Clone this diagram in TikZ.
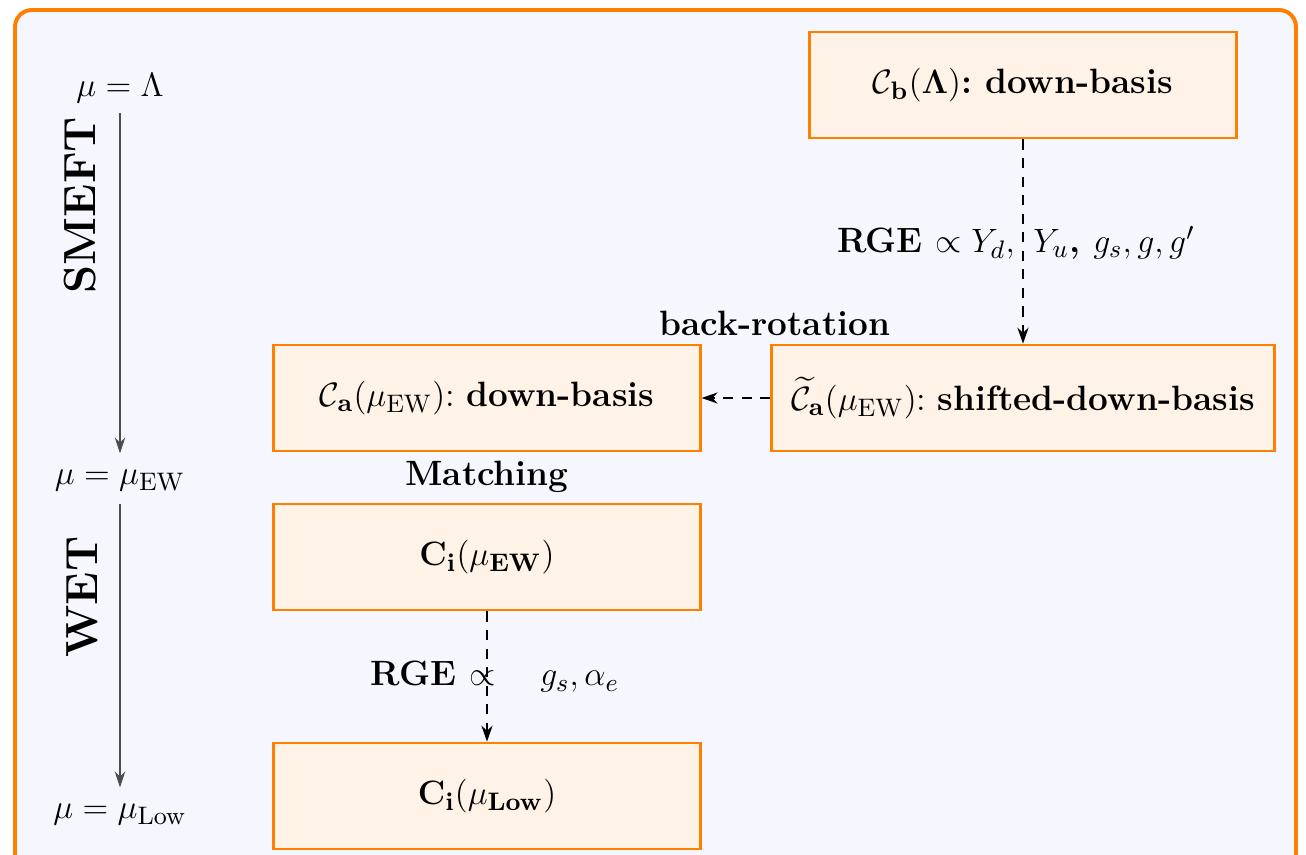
\documentclass[tikz,border=0pt]{standalone}
\usepackage{amsmath,amssymb}
\usetikzlibrary{arrows.meta,positioning}
\definecolor{frameorange}{HTML}{FF8000}
\definecolor{boxfill}{HTML}{FFF2E6}
\definecolor{panel}{HTML}{F6F6FE}
\tikzset{
  basisbox/.style={
    draw=frameorange,
    fill=boxfill,
    line width=1pt,
    inner sep=0pt,
    minimum height=1.325cm,
    font=\fontsize{12.5}{15}\selectfont,
    align=center
  },
  tag/.style={
    font=\bfseries\fontsize{12.5}{15}\selectfont,
    align=center
  },
  scale label/.style={
    font=\fontsize{12.5}{15}\selectfont
  },
  eft/.style={
    font=\bfseries\fontsize{16}{19}\selectfont,
    rotate=90
  },
  flow/.style={
    -{Stealth[length=2mm,width=1.4mm]},
    dash pattern=on 3.6pt off 3pt,
    line width=0.5pt
  },
  axis/.style={
    -{Stealth[length=2mm,width=1.3mm]},
    draw=black!70,
    line width=0.45pt
  }
}

\begin{document}
\begin{tikzpicture}[x=0.0125cm,y=-0.0125cm]
  \clip (0,0) rectangle (1306,855);
  % Panel
  \draw[frameorange, fill=panel, line width=1.4pt, rounded corners=6pt]
    (15,10) rectangle (1296,880);

  % Scale axis
  \node[scale label] (lam) at (120,88) {$\mu=\Lambda$};
  \node[scale label] (ew) at (120,481) {$\mu=\mu_{\mathrm{EW}}$};
  \node[scale label] (low) at (120,815) {$\mu=\mu_{\mathrm{Low}}$};
  \draw[axis, shorten <=0pt, shorten >=2.5pt] (lam) -- (ew);
  \draw[axis, shorten <=1pt, shorten >=2.5pt] (ew) -- (low);
  \node[eft] (smeft) at (80,205) {SMEFT};
  \node[eft] (wet) at (82,597) {WET};

  % Bases
  \node[basisbox, minimum width=5.34cm] (cb) at (1023,85)
    {$\mathcal{C}_{\mathbf{b}}(\boldsymbol{\Lambda})$\textbf{:\ down-basis}};
  \node[basisbox, minimum width=6.28cm] (cshift) at (1023,398)
    {$\widetilde{\mathcal{C}}_{\mathbf{a}}(\mu_{\mathrm{EW}})$:\ \textbf{shifted-down-basis}};
  \node[basisbox, minimum width=5.33cm] (ca) at (487,398)
    {$\mathcal{C}_{\mathbf{a}}(\mu_{\mathrm{EW}})$:\ \textbf{down-basis}};
  \node[basisbox, minimum width=5.33cm] (ciew) at (487,557)
    {$\mathbf{C}_{\mathbf{i}}(\mu_{\mathbf{EW}})$};
  \node[basisbox, minimum width=5.33cm] (cilow) at (487,796)
    {$\mathbf{C}_{\mathbf{i}}(\mu_{\mathbf{Low}})$};

  % Running and rotation
  \draw[flow] (cb) -- (cshift);
  \node[tag] (rgeup) at (1016,243)
    {RGE $\propto Y_d,\ Y_u$, $g_s, g, g'$};
  \draw[flow] (cshift) -- (ca);
  \node[tag] (rot) at (775,323) {back-rotation};
  \node[tag] (match) at (487,477) {Matching};
  \draw[flow] (ciew) -- (cilow);
  \node[tag] (rgelow) at (495,677) {RGE $\propto\quad g_s, \alpha_e$};
\end{tikzpicture}
\end{document}
